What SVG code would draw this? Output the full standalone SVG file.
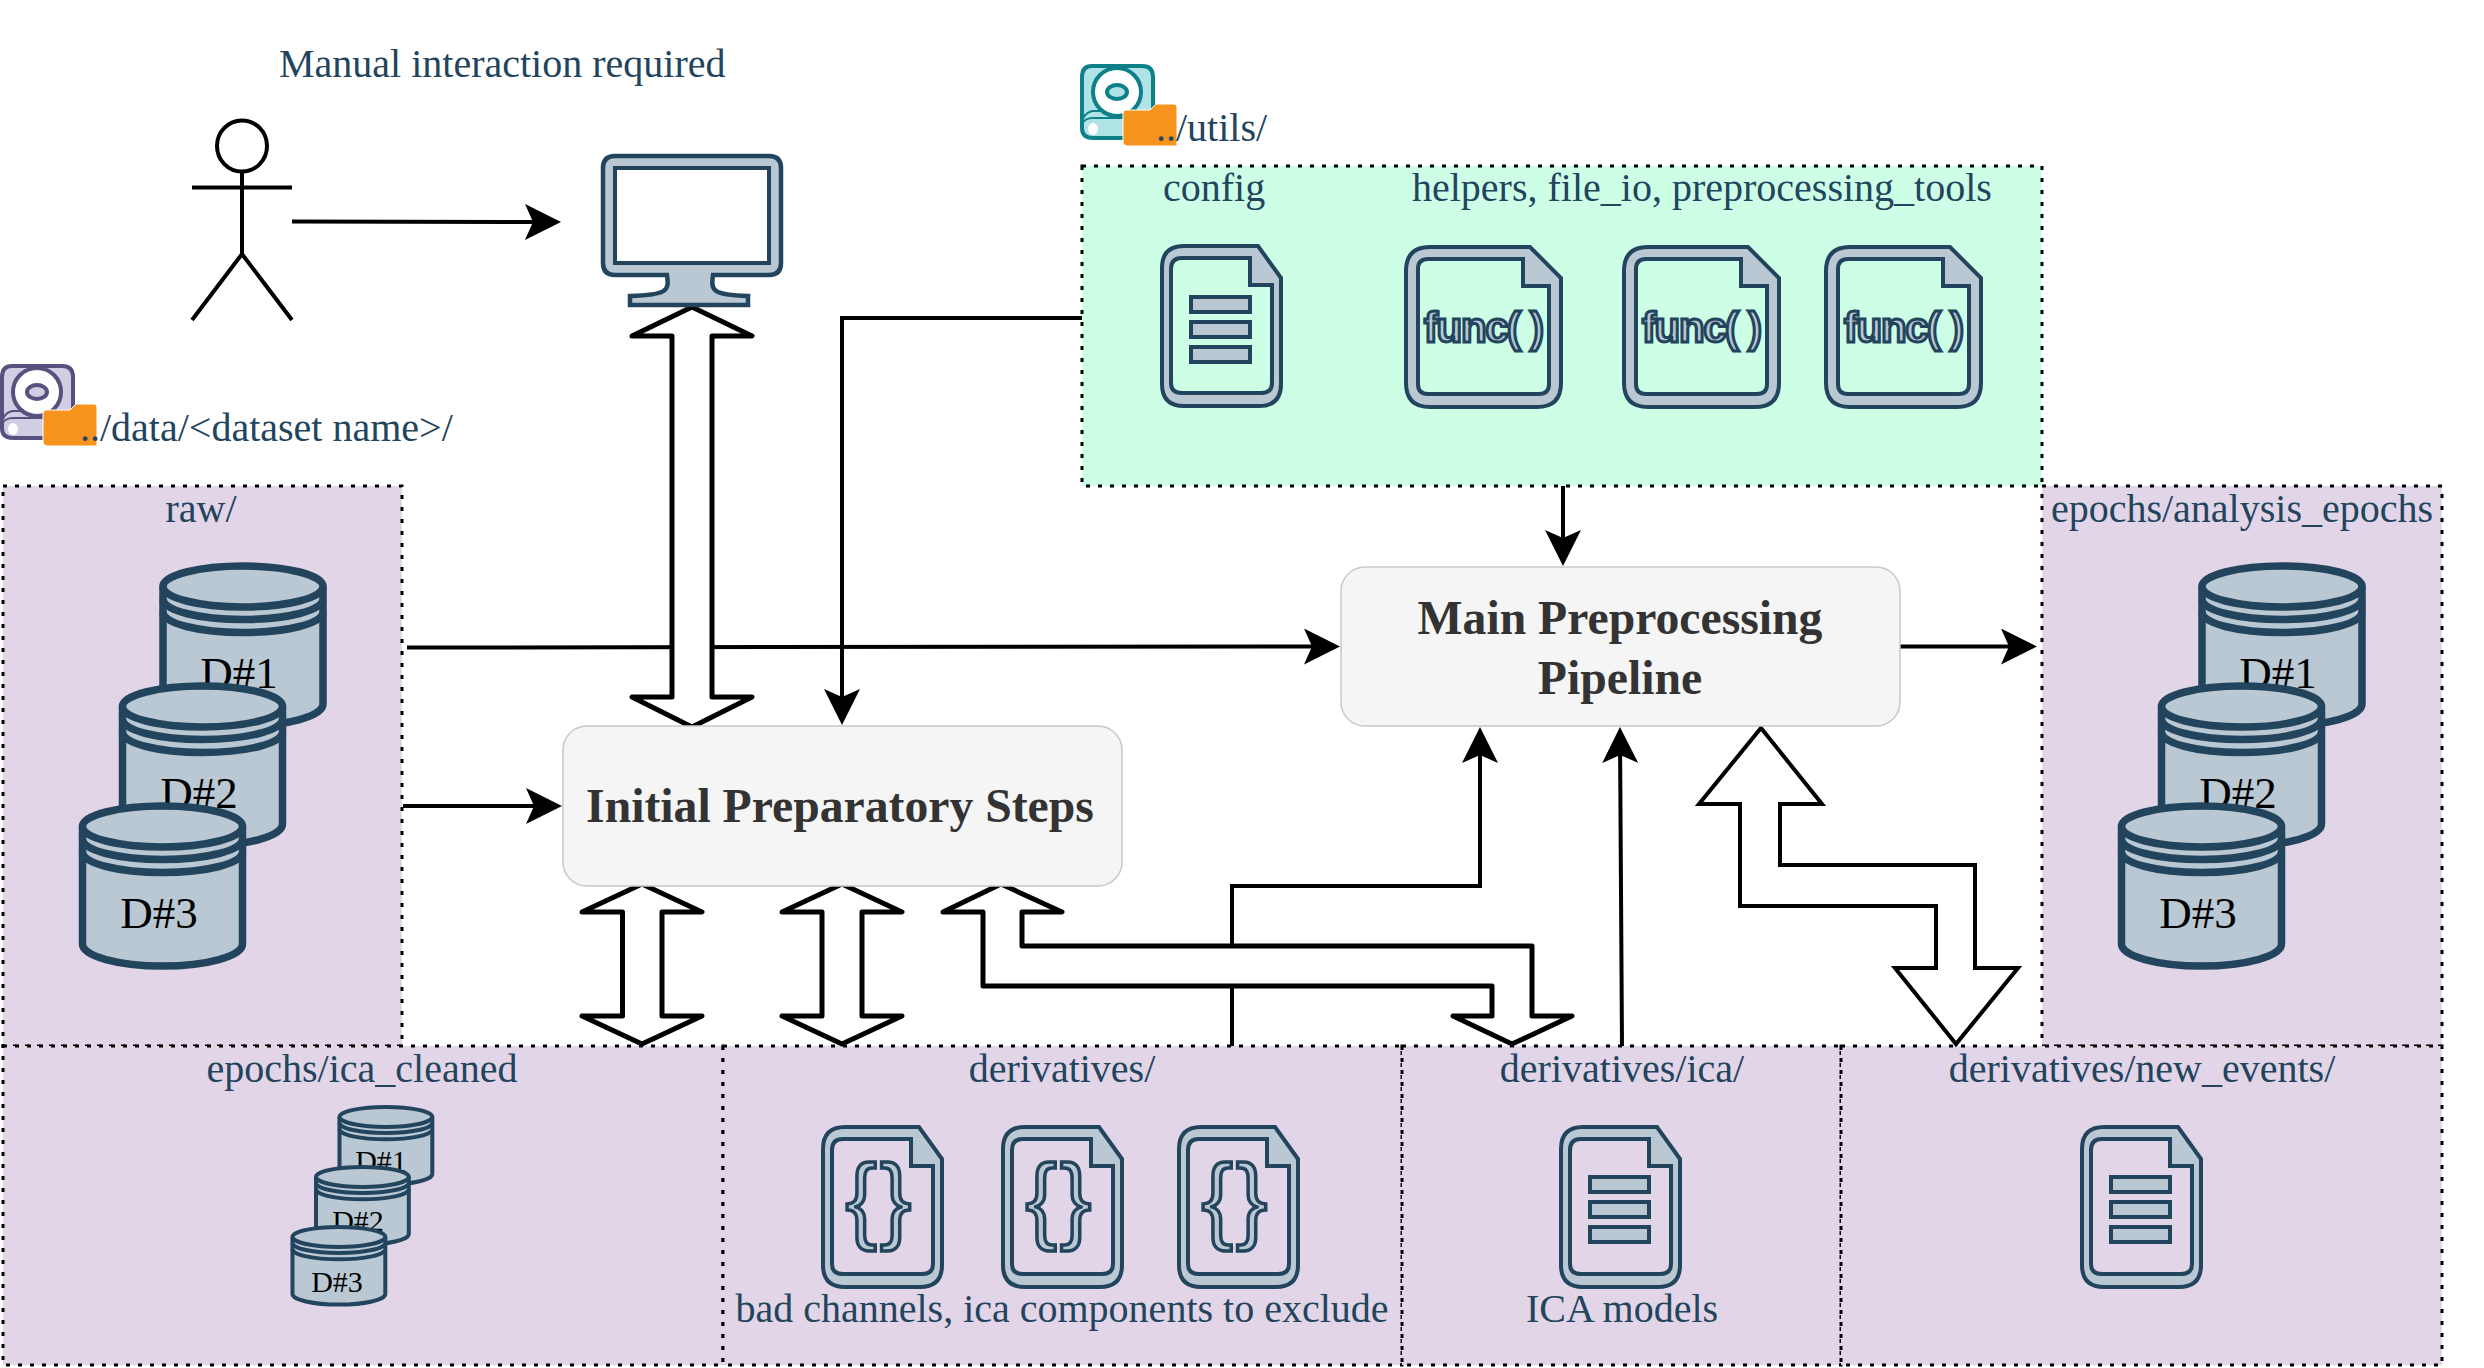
<svg xmlns="http://www.w3.org/2000/svg" width="2484" height="1368" viewBox="0 0 2484 1368">
<style>
text{font-family:"Liberation Serif","Times New Roman",serif}
.lbl{font-size:40px;fill:#23445d}
.m{text-anchor:middle}
.title{font-size:47.700px;font-weight:bold;fill:#333;text-anchor:middle}
.zone{stroke:#000;stroke-width:3;stroke-dasharray:4 8}
.purple{fill:#e1d5e7}
.green{fill:#ccffe6}
.box{fill:#f5f5f5;stroke:#c8c8c8;stroke-width:1.500}
.ic{fill:#bac8d3;stroke:#23445d;stroke-width:4;fill-rule:evenodd}
.cl{fill:#bac8d3;stroke:#23445d;stroke-width:7.500}
.cs{fill:#bac8d3;stroke:#23445d;stroke-width:4}
.ns{vector-effect:non-scaling-stroke}
.dl{font-size:45px;fill:#000;text-anchor:middle}
.ds{font-size:30px;fill:#000;text-anchor:middle}
.ln{fill:none;stroke:#000;stroke-width:4}
.arr{marker-end:url(#head)}
.blk{fill:#fff;stroke:#000;stroke-width:5;stroke-linejoin:round}
.blk2{fill:#fff;stroke:#000;stroke-width:4;stroke-linejoin:miter}
.func{font-family:"Liberation Sans",Arial,sans-serif;font-weight:bold;font-size:42px;fill:#bac8d3;stroke:#23445d;stroke-width:3}
.brace{font-family:"Liberation Sans",Arial,sans-serif;font-size:94px;letter-spacing:3px;fill:#bac8d3;stroke:#23445d;stroke-width:3.500;text-anchor:middle}
.dp{fill:#d0cee2;stroke:#56517e}
.dt{fill:#b0e3e6;stroke:#0e8088}
</style>
<defs>
<marker id="head" markerUnits="userSpaceOnUse" markerWidth="36" markerHeight="36" viewBox="0 0 36 36" refX="28" refY="18" orient="auto">
<path d="M0 0L36 18L0 36L8 18Z" fill="#000"/>
</marker>
<g id="cyl">
<path class="ns" d="M0 20.500A80 20.500 0 0 1 160 20.500V138A80 22 0 0 1 0 138Z"/>
<path class="ns" fill="none" d="M0 20.500A80 20.500 0 0 0 160 20.500M0 33A80 20.500 0 0 0 160 33M0 46A80 20.500 0 0 0 160 46"/>
</g>
<path id="doc" d="M24 2H98L121 34V140Q121 162 99 162H24Q2 162 2 140V24Q2 2 24 2ZM22 14Q11 14 11 25V139Q11 149 22 149H101Q112 149 112 139V41H90V14Z"/>
<path id="fdoc" d="M26 2H126L157 33V138Q157 162 133 162H26Q2 162 2 138V26Q2 2 26 2ZM24 14Q14 14 14 24V139Q14 149 24 149H135Q145 149 145 139V41H119V14Z"/>
<g id="lines">
<rect x="31" y="52" width="59" height="15"/><rect x="31" y="77" width="59" height="15"/><rect x="31" y="102" width="59" height="15"/>
</g>
<g id="disk">
<path stroke-width="4" d="M12 366H62Q73 366 73 377V429Q73 438 62 438H13Q2 438 2 428V377Q2 366 12 366Z"/>
<path d="M2 424Q2 414 12 411H73V418H13Q5 418 2 424Z" stroke-width="2"/>
<circle cx="37" cy="392" r="24" stroke-width="4" style="fill:#fff"/>
<ellipse cx="37" cy="392" rx="10" ry="7" stroke-width="4"/>
<ellipse cx="13" cy="429" rx="5" ry="6" stroke="none" style="fill:#fff"/>
<path d="M46 410H70L76 404H94Q97 404 97 407V446H48Q43 446 43 441V413Q43 410 46 410Z" style="fill:#f7941d;stroke:#fff" stroke-width="1"/>
</g>
</defs>

<g id="zone-raw"><rect class="zone purple" x="3" y="486" width="399" height="560"/><text class="lbl m" x="201" y="522">raw/</text></g>
<g id="zone-analysis"><rect class="zone purple" x="2042" y="486" width="400" height="560"/><text class="lbl m" x="2242" y="522">epochs/analysis_epochs</text></g>
<g id="zone-utils"><rect class="zone green" x="1082" y="166" width="960" height="320"/>
<text class="lbl" x="1163" y="201">config</text><text class="lbl" x="1412" y="201">helpers, file_io, preprocessing_tools</text></g>
<g id="zone-ica-cleaned"><rect class="zone purple" x="3" y="1046" width="720" height="319"/><text class="lbl m" x="362" y="1082">epochs/ica_cleaned</text></g>
<g id="zone-derivatives"><rect class="zone purple" x="723" y="1046" width="679" height="319"/><text class="lbl m" x="1062" y="1082">derivatives/</text><text class="lbl m" x="1062" y="1322">bad channels, ica components to exclude</text></g>
<g id="zone-ica"><rect class="zone purple" x="1402" y="1046" width="439" height="319"/><text class="lbl m" x="1622" y="1082">derivatives/ica/</text><text class="lbl m" x="1622" y="1322">ICA models</text></g>
<g id="zone-events"><rect class="zone purple" x="1841" y="1046" width="601" height="319"/><text class="lbl m" x="2142" y="1082">derivatives/new_events/</text></g>

<g id="connectors">
<path class="ln arr" d="M292 221.500L553 222"/>
<path class="ln arr" d="M1082 318H842V717"/>
<path class="ln arr" d="M407 647.500L1332 646.500"/>
<path class="ln arr" d="M403 806H554"/>
<path class="ln arr" d="M1900 646.500H2029"/>
<path class="ln arr" d="M1563 486V558"/>
<path class="ln arr" d="M1232 1046V886H1480V735"/>
<path class="ln arr" d="M1622 1046L1620 735"/>
<path class="blk" d="M692 307L752 336H712V697H752L692 727L632 697H672V336H632Z"/>
<path class="blk" d="M642 884L702 912H662V1016H702L642 1044L582 1016H622.500V912H582Z"/>
<path class="blk" d="M842 884L902 912H862V1016H902L842 1044L782 1016H822V912H782Z"/>
<path class="blk" d="M1001 884L1062 912H1022V946H1532V1016H1572L1512 1044L1453 1016H1492V986H983V912H943Z"/>
<path class="blk2" d="M1761 728L1822 804H1780V865H1975V968H2018L1956 1044L1895 968H1936V906H1740V804H1699Z"/>
</g>

<g id="actor" fill="none" stroke="#000" stroke-width="4">
<ellipse cx="242" cy="146" rx="25" ry="25.500"/>
<path d="M242 172V254M192 187.500H292M192 320L242 254L292 320"/>
</g>
<text id="actor-label" class="lbl" x="279" y="77">Manual interaction required</text>
<g id="monitor">
<path class="ic" d="M615 156H769Q781 156 781 168V263Q781 275 769 275H713C711 290 711 295 748 296V305H630V296C669 295 669 290 667 275H615Q603 275 603 263V168Q603 156 615 156Z" style="stroke-width:4.500"/>
<rect x="615" y="168" width="154" height="95" fill="#fff" stroke="#23445d" stroke-width="4"/>
</g>
<g id="disk-data"><use href="#disk" class="dp"/><text class="lbl" x="80" y="441">../data/&lt;dataset name&gt;/</text></g>
<g id="disk-utils"><use href="#disk" class="dt" transform="translate(1080 -300)"/><text class="lbl" x="1156" y="141">../utils/</text></g>

<g id="box-initial"><rect class="box" x="563" y="726" width="559" height="160" rx="24"/><text class="title" x="840" y="822">Initial Preparatory Steps</text></g>
<g id="box-main"><rect class="box" x="1341" y="567" width="559" height="159" rx="24"/><text class="title" x="1620" y="634">Main Preprocessing</text><text class="title" x="1620" y="694">Pipeline</text></g>

<g id="doc-config"><use href="#doc" class="ic" transform="translate(1160 244)"/><use href="#lines" class="ic" transform="translate(1160 245)"/></g>
<g id="func-1"><use href="#fdoc" class="ic" transform="translate(1404 245)"/><text class="func" x="1424" y="342" textLength="120">func( )</text></g>
<g id="func-2"><use href="#fdoc" class="ic" transform="translate(1622 245)"/><text class="func" x="1642" y="342" textLength="120">func( )</text></g>
<g id="func-3"><use href="#fdoc" class="ic" transform="translate(1824 245)"/><text class="func" x="1844" y="342" textLength="120">func( )</text></g>

<g id="cyl-raw">
<use href="#cyl" class="cl" transform="translate(163 566)"/><text class="dl" x="239" y="688">D#1</text>
<use href="#cyl" class="cl" transform="translate(122.500 686)"/><text class="dl" x="199" y="808">D#2</text>
<use href="#cyl" class="cl" transform="translate(82.500 806)"/><text class="dl" x="159" y="928">D#3</text>
</g>
<g id="cyl-analysis">
<use href="#cyl" class="cl" transform="translate(2202 566)"/><text class="dl" x="2278" y="688">D#1</text>
<use href="#cyl" class="cl" transform="translate(2161.500 686)"/><text class="dl" x="2238" y="808">D#2</text>
<use href="#cyl" class="cl" transform="translate(2121.500 806)"/><text class="dl" x="2198" y="928">D#3</text>
</g>
<g id="cyl-ica">
<use href="#cyl" class="cs" transform="translate(339.500 1107) scale(.58 .485)"/><text class="ds" x="381" y="1171">D#1</text>
<use href="#cyl" class="cs" transform="translate(316 1167) scale(.58 .485)"/><text class="ds" x="358" y="1231">D#2</text>
<use href="#cyl" class="cs" transform="translate(292.500 1227) scale(.58 .485)"/><text class="ds" x="337" y="1292">D#3</text>
</g>

<g id="json-1"><use href="#doc" class="ic" transform="translate(821 1125)"/><text class="brace" x="880" y="1231">{}</text></g>
<g id="json-2"><use href="#doc" class="ic" transform="translate(1001 1125)"/><text class="brace" x="1060" y="1231">{}</text></g>
<g id="json-3"><use href="#doc" class="ic" transform="translate(1177 1125)"/><text class="brace" x="1236" y="1231">{}</text></g>
<g id="doc-ica"><use href="#doc" class="ic" transform="translate(1559 1125)"/><use href="#lines" class="ic" transform="translate(1559 1125)"/></g>
<g id="doc-events"><use href="#doc" class="ic" transform="translate(2080 1125)"/><use href="#lines" class="ic" transform="translate(2080 1125)"/></g>
</svg>
